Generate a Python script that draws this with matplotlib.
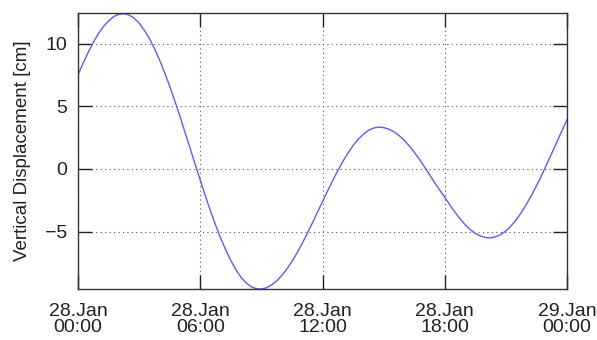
import matplotlib
matplotlib.use("Agg")
import matplotlib.pyplot as plt
import matplotlib.dates as mdates
import pandas as pd

# Quarter-hourly estimates (28 Jan 00:00 -> 29 Jan 00:00)
start = "2000-01-28 00:00"
end = "2000-01-29 00:00"
displacement = [
    7.5, 8.45, 9.3, 10.1, 10.8, 11.38, 11.81, 12.16,          # 00:00-01:45
    12.35, 12.40, 12.29, 12.04, 11.64, 11.09, 10.42, 9.62,    # 02:00-03:45
    8.71, 7.69, 6.60, 5.43, 4.21, 2.94, 1.66, 0.37,           # 04:00-05:45
    -0.90, -2.15, -3.35, -4.47, -5.52, -6.47, -7.31, -8.05,   # 06:00-07:45
    -8.65, -9.10, -9.41, -9.57, -9.59, -9.49, -9.27, -8.95,   # 08:00-09:45
    -8.52, -8.00, -7.39, -6.71, -5.96, -5.16, -4.33, -3.47,   # 10:00-11:45
    -2.61, -1.76, -0.93, -0.15, 0.60, 1.26, 1.86, 2.36,       # 12:00-13:45
    2.76, 3.07, 3.26, 3.34, 3.30, 3.18, 2.97, 2.67,           # 14:00-15:45
    2.30, 1.85, 1.34, 0.78, 0.18, -0.45, -1.09, -1.70,        # 16:00-17:45
    -2.25, -2.88, -3.45, -3.98, -4.45, -4.85, -5.15, -5.36,   # 18:00-19:45
    -5.48, -5.51, -5.42, -5.24, -4.95, -4.56, -4.08, -3.50,   # 20:00-21:45
    -2.85, -2.13, -1.35, -0.53, 0.35, 1.24, 2.14, 3.04,       # 22:00-23:45
    3.92,                                                     # 24:00
]
y_label = "Vertical Displacement [cm]"
y_ticks = [-5, 0, 5, 10]

plt.rcParams['font.family'] = ['Liberation Sans', 'DejaVu Sans']

times = pd.date_range(start, end, periods=len(displacement))

fig = plt.figure(figsize=(5.97, 3.40), dpi=100)
ax = fig.add_axes([78/597, 1-289/340, (567-78)/597, (289-13)/340])

ax.plot(times, displacement, color="#5c5cff", lw=1.0)

ax.set_xlim(times[0], times[-1])
ax.set_ylim(min(displacement), max(displacement) + 0.05)
ax.set_yticks(y_ticks)

ax.xaxis.set_major_locator(mdates.HourLocator(byhour=[0, 6, 12, 18]))
ax.xaxis.set_major_formatter(mdates.DateFormatter("%d.%b\n%H:%M"))

ax.grid(True, color="#555555", linestyle=(0, (1, 3)), lw=0.8)
ax.tick_params(direction="in", length=10, width=1, colors="#222222",
               labelsize=14, top=True, right=True)
ax.tick_params(axis="x", pad=10)
ax.tick_params(axis="y", pad=8)
for lab in ax.get_xticklabels():
    lab.set_horizontalalignment("center")
    lab.set_linespacing(0.95)
for s in ax.spines.values():
    s.set_color("#333333")
    s.set_linewidth(1.0)

ax.set_ylabel(y_label, fontsize=13.5, labelpad=10, color="#222222")

fig.savefig("out.png", dpi=100)
